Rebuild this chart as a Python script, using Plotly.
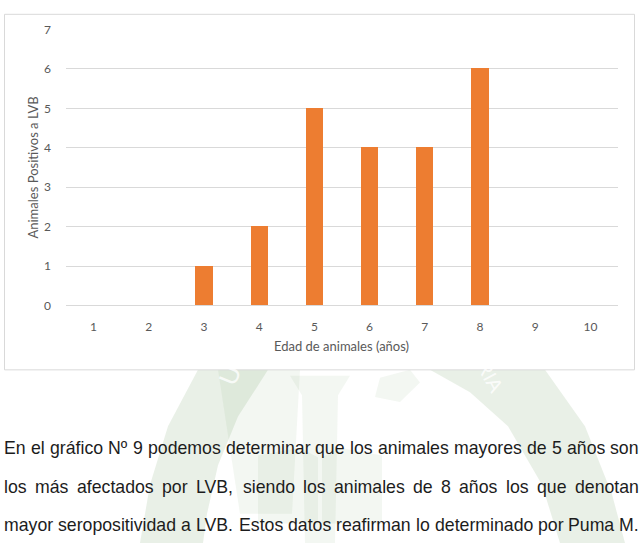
import plotly.graph_objects as go

# ---------------- data ----------------
ages = [1, 2, 3, 4, 5, 6, 7, 8, 9, 10]
positives = [0, 0, 1, 2, 5, 4, 4, 6, 0, 0]
y_ticks = [0, 1, 2, 3, 4, 5, 6, 7]
x_title = "Edad de animales (años)"
y_title = "Animales Positivos a LVB"
paragraph_lines = [
    "En el gráfico Nº 9 podemos determinar que los animales mayores de 5 años son",
    "los más afectados por LVB, siendo los animales de 8 años los que denotan",
    "mayor seropositividad a LVB. Estos datos reafirman lo determinado por Puma M.",
]

# ---------------- layout helpers ----------------
W, H = 642, 550


def px(x):
    return x / W


def py(y):
    return 1 - y / H


def path(points):
    return "M " + " L ".join(f"{px(x):.5f},{py(y):.5f}" for x, y in points) + " Z"


# Arial / Liberation Sans advance widths (1/1000 em)
AW = {" ": 278, "a": 556, "b": 556, "c": 500, "d": 556, "e": 556, "f": 278, "g": 556,
      "h": 556, "i": 222, "j": 222, "k": 500, "l": 222, "m": 833, "n": 556, "o": 556,
      "p": 556, "q": 556, "r": 333, "s": 500, "t": 278, "u": 556, "v": 500, "w": 722,
      "x": 500, "y": 500, "z": 500, "A": 667, "B": 667, "C": 722, "D": 722, "E": 667,
      "L": 556, "M": 833, "N": 722, "P": 667, "V": 667, ",": 278, ".": 278, "º": 365,
      "á": 556, "ñ": 556}


def tw(s, size):
    return sum(AW.get(c, 556) for c in s) * size / 1000.0


fig = go.Figure(
    go.Bar(x=ages, y=positives, marker=dict(color="#ED7D31", line=dict(width=0)),
           width=0.31, hoverinfo="x+y")
)

tick_font = dict(family="Lato, Carlito, Calibri, sans-serif", size=12, color="#595959")

fig.update_layout(
    width=W, height=H,
    margin=dict(l=0, r=0, t=0, b=0),
    paper_bgcolor="white", plot_bgcolor="rgba(0,0,0,0)",
    showlegend=False,
    bargap=0,
    xaxis=dict(domain=[px(66), px(618)], range=[0.5, 10.5], tickvals=ages,
               ticktext=[str(a) for a in ages], showgrid=False, zeroline=False,
               showline=False, ticks="", tickfont=tick_font, ticklabelstandoff=12,
               fixedrange=True),
    yaxis=dict(domain=[py(306), py(22)], range=[0, 7], tickvals=y_ticks,
               showgrid=True, gridcolor="#D9D9D9", gridwidth=1,
               zeroline=True, zerolinecolor="#D9D9D9", zerolinewidth=1,
               showline=False, ticks="", tickfont=tick_font, ticklabelstandoff=14,
               fixedrange=True),
)

shapes = []
band = "rgba(105,155,95,0.15)"
light = "rgba(105,155,95,0.08)"
# faint watermark crest (behind the chart box)
shapes.append(dict(type="path", xref="paper", yref="paper", layer="below", line=dict(width=0),
                   fillcolor=band,
                   path=path([(198, 372), (268, 372), (238, 420), (218, 470), (207, 520),
                              (203, 550), (140, 550), (150, 490), (168, 430)])))
shapes.append(dict(type="path", xref="paper", yref="paper", layer="below", line=dict(width=0),
                   fillcolor=band,
                   path=path([(430, 372), (545, 372), (585, 430), (612, 500), (625, 550),
                              (560, 550), (542, 490), (508, 430), (470, 395)])))
shapes.append(dict(type="path", xref="paper", yref="paper", layer="below", line=dict(width=0),
                   fillcolor=light,
                   path=path([(218, 372), (300, 372), (292, 520), (240, 520)])))
shapes.append(dict(type="path", xref="paper", yref="paper", layer="below", line=dict(width=0),
                   fillcolor=light,
                   path=path([(290, 378), (350, 378), (338, 398), (335, 550), (305, 550),
                              (302, 398)])))
shapes.append(dict(type="path", xref="paper", yref="paper", layer="below", line=dict(width=0),
                   fillcolor=light,
                   path=path([(258, 460), (300, 452), (318, 462), (318, 530), (258, 530)])))
shapes.append(dict(type="path", xref="paper", yref="paper", layer="below", line=dict(width=0),
                   fillcolor=light,
                   path=path([(322, 462), (340, 452), (382, 460), (382, 530), (322, 530)])))
shapes.append(dict(type="path", xref="paper", yref="paper", layer="below", line=dict(width=0),
                   fillcolor=light,
                   path=path([(380, 380), (410, 372), (420, 385), (400, 405), (375, 400)])))
# chart box
shapes.append(dict(type="rect", xref="paper", yref="paper", layer="below",
                   x0=px(4.5), x1=px(634.5), y0=py(372), y1=py(6.5),
                   line=dict(color="#D9D9D9", width=1), fillcolor="white"))
fig.update_layout(shapes=shapes)

ann = []
title_font = dict(family="Lato, Carlito, Calibri, sans-serif", size=13, color="#595959")
ann.append(dict(text=x_title, x=px(341), y=py(347), xref="paper", yref="paper",
                showarrow=False, xanchor="center", yanchor="middle", font=title_font))
ann.append(dict(text=y_title, x=px(33), y=py(164), xref="paper", yref="paper",
                showarrow=False, xanchor="center", yanchor="middle", textangle=-90,
                font=title_font))
ann.append(dict(text="UN", x=px(210), y=py(395), xref="paper", yref="paper",
                showarrow=False, textangle=-68,
                font=dict(family="Liberation Sans", size=26, color="rgba(255,255,255,0.8)")))
ann.append(dict(text="RIA", x=px(510), y=py(402), xref="paper", yref="paper",
                showarrow=False, textangle=62,
                font=dict(family="Liberation Sans", size=20, color="rgba(255,255,255,0.8)")))

# justified paragraph
FS = 17.7
left, right = 3, 638
line_y = [452, 492, 532]
for line, yy in zip(paragraph_lines, line_y):
    words = line.split(" ")
    widths = [tw(w, FS) for w in words]
    gap = (right - left - sum(widths)) / (len(words) - 1)
    x = left
    for w, wd in zip(words, widths):
        ann.append(dict(text=w, x=px(x - 1), y=py(yy), xref="paper", yref="paper",
                        showarrow=False, xanchor="left", yanchor="middle",
                        font=dict(family="Liberation Sans, Arial, sans-serif", size=FS,
                                  color="#1c1c1c")))
        x += wd + gap

fig.update_layout(annotations=ann)

fig.write_html("out.html")
